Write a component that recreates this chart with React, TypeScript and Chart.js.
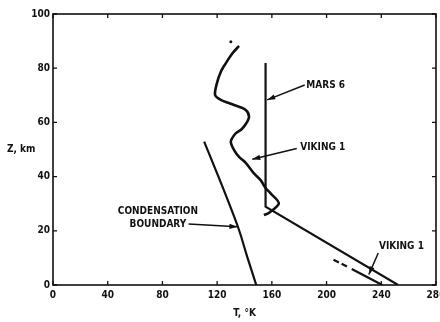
import React, { useEffect, useRef } from "react";
import { Chart, registerables } from "chart.js";
Chart.register(...registerables);

// Axis ticks
const tempTicks = [0, 40, 80, 120, 160, 200, 240, 280];
const altTicks = [0, 20, 40, 60, 80, 100];

// Viking 1 upper profile (T in K, Z in km)
const viking1T = [136.0, 131.2, 126.3, 122.7, 119.8, 118.5, 122.7, 132.4, 140.9, 143.3, 141.2, 137.5, 133.6, 130.0, 132.4, 136.0, 140.9, 146.9, 151.8, 155.4, 159.1, 165.1, 157.8, 154.2];
const viking1Z = [88.2, 85.5, 81.8, 78.7, 74.4, 70.1, 68.3, 66.4, 64.6, 62.1, 59.6, 57.3, 56.0, 52.9, 49.8, 47.3, 45.1, 41.2, 38.7, 35.8, 33.8, 30.1, 26.6, 25.8];
const vikingDotT = [130.0];
const vikingDotZ = [89.8];

// Mars 6 profile
const mars6T = [155.4, 155.4, 252.3];
const mars6Z = [81.9, 28.9, 0];

// Viking 1 lower profile (dashed part, solid part)
const viking1LowDashT = [205.1, 216.5];
const viking1LowDashZ = [9.3, 6.4];
const viking1LowT = [218.4, 240.7];
const viking1LowZ = [5.9, 0];

// Condensation boundary
const condT = [110.5, 119.0, 128.7, 136.0, 142.0, 148.6];
const condZ = [52.9, 42.4, 30.1, 20.3, 10.4, 0];

// Annotations
const labelLines = [["MARS 6"], ["VIKING 1"], ["CONDENSATION", "BOUNDARY"], ["VIKING 1"]];
const labelT = [185.2, 180.8, 76.7, 238.3];
const labelZ = [73.8, 50.9, 27.05, 14.1];
const labelAlign = ["left", "left", "center", "left"];
const arrowFromT = [184.0, 178.2, 99.1, 237.8];
const arrowFromZ = [73.8, 50.4, 22.5, 11.8];
const arrowToT = [156.6, 145.7, 134.8, 230.9];
const arrowToZ = [68.3, 46.4, 21.5, 3.9];

const xTitle = "T, °K";
const yTitle = "Z, km";

const INK = "#111";
const FONT = "'DejaVu Sans Condensed', 'DejaVu Sans', sans-serif";

const zip = (xs: number[], ys: number[]) => xs.map((x, i) => ({ x, y: ys[i] }));

const decorPlugin = {
  id: "decor",
  afterDatasetsDraw(chart: any) {
    const { ctx, chartArea: a, scales } = chart;
    const xs = scales.x;
    const ys = scales.y;
    ctx.save();
    ctx.strokeStyle = INK;
    ctx.fillStyle = INK;
    // frame
    ctx.lineWidth = 1.6;
    ctx.strokeRect(a.left, a.top, a.right - a.left, a.bottom - a.top);
    // inward ticks
    ctx.lineWidth = 1.3;
    const tl = 4;
    ctx.beginPath();
    tempTicks.forEach((t) => {
      const px = xs.getPixelForValue(t);
      ctx.moveTo(px, a.bottom);
      ctx.lineTo(px, a.bottom - tl);
      ctx.moveTo(px, a.top);
      ctx.lineTo(px, a.top + tl);
    });
    altTicks.forEach((z) => {
      const py = ys.getPixelForValue(z);
      ctx.moveTo(a.left, py);
      ctx.lineTo(a.left + tl, py);
      ctx.moveTo(a.right, py);
      ctx.lineTo(a.right - tl, py);
    });
    ctx.stroke();

    // y title (horizontal)
    ctx.font = `bold 10px ${FONT}`;
    ctx.textAlign = "left";
    ctx.textBaseline = "middle";
    ctx.fillText(yTitle, 7, ys.getPixelForValue(50));

    // annotations
    labelLines.forEach((lines, i) => {
      const px = xs.getPixelForValue(labelT[i]);
      const py = ys.getPixelForValue(labelZ[i]);
      ctx.textAlign = labelAlign[i] as CanvasTextAlign;
      lines.forEach((ln, k) => {
        ctx.fillText(ln, px, py + k * 12.3);
      });
      const x0 = xs.getPixelForValue(arrowFromT[i]);
      const y0 = ys.getPixelForValue(arrowFromZ[i]);
      const x1 = xs.getPixelForValue(arrowToT[i]);
      const y1 = ys.getPixelForValue(arrowToZ[i]);
      ctx.lineWidth = 1.5;
      ctx.beginPath();
      ctx.moveTo(x0, y0);
      ctx.lineTo(x1, y1);
      ctx.stroke();
      const ang = Math.atan2(y1 - y0, x1 - x0);
      const L = 8;
      const W = 2.6;
      const bx = x1 - L * Math.cos(ang);
      const by = y1 - L * Math.sin(ang);
      ctx.beginPath();
      ctx.moveTo(x1, y1);
      ctx.lineTo(bx + W * Math.sin(ang), by - W * Math.cos(ang));
      ctx.lineTo(bx - W * Math.sin(ang), by + W * Math.cos(ang));
      ctx.closePath();
      ctx.fill();
    });
    ctx.restore();
  },
};

export default function App() {
  const ref = useRef<HTMLCanvasElement | null>(null);
  useEffect(() => {
    if (!ref.current) return;
    const lineDs = (data: any[], extra: any = {}) => ({
      data,
      borderColor: INK,
      backgroundColor: INK,
      borderWidth: 2.2,
      pointRadius: 0,
      fill: false,
      ...extra,
    });
    const chart = new Chart(ref.current, {
      type: "line",
      data: {
        datasets: [
          lineDs(zip(viking1T, viking1Z), { tension: 0.3, borderWidth: 2.6 }),
          lineDs(zip(vikingDotT, vikingDotZ), { showLine: false, pointRadius: 1.5, pointBorderWidth: 0 }),
          lineDs(zip(mars6T, mars6Z), { borderWidth: 2.2 }),
          lineDs(zip(viking1LowDashT, viking1LowDashZ), { borderDash: [6, 3] }),
          lineDs(zip(viking1LowT, viking1LowZ)),
          lineDs(zip(condT, condZ), { tension: 0.4 }),
        ],
      },
      options: {
        animation: false,
        responsive: false,
        maintainAspectRatio: false,
        layout: { padding: { left: 0, right: 2, top: 14, bottom: 0 } },
        plugins: { legend: { display: false }, tooltip: { enabled: false } },
        scales: {
          x: {
            type: "linear",
            min: 0,
            max: 280,
            afterBuildTicks: (s: any) => {
              s.ticks = tempTicks.map((v) => ({ value: v }));
            },
            afterFit: (s: any) => {
              s.height = 37;
              s.paddingLeft = 0;
              s.paddingRight = 0;
            },
            grid: { display: false, drawTicks: false },
            border: { display: false },
            ticks: {
              padding: 4,
              color: INK,
              maxRotation: 0,
              autoSkip: false,
              font: { family: FONT, size: 10, weight: "bold" },
            },
            title: {
              display: true,
              text: xTitle,
              color: INK,
              padding: { top: 0, bottom: 2.5 },
              font: { family: FONT, size: 10, weight: "bold" },
            },
          },
          y: {
            type: "linear",
            min: 0,
            max: 100,
            afterBuildTicks: (s: any) => {
              s.ticks = altTicks.map((v) => ({ value: v }));
            },
            afterFit: (s: any) => {
              s.width = 53;
              s.paddingTop = 0;
              s.paddingBottom = 0;
            },
            grid: { display: false, drawTicks: false },
            border: { display: false },
            ticks: {
              padding: 3,
              color: INK,
              autoSkip: false,
              font: { family: FONT, size: 10, weight: "bold" },
            },
          },
        },
      },
      plugins: [decorPlugin],
    } as any);
    return () => chart.destroy();
  }, []);
  return (
    <div style={{ position: "absolute", left: 0, top: 0, width: 440, height: 322, background: "#fff" }}>
      <canvas ref={ref} width={440} height={322} style={{ display: "block", width: 440, height: 322 }} />
    </div>
  );
}
